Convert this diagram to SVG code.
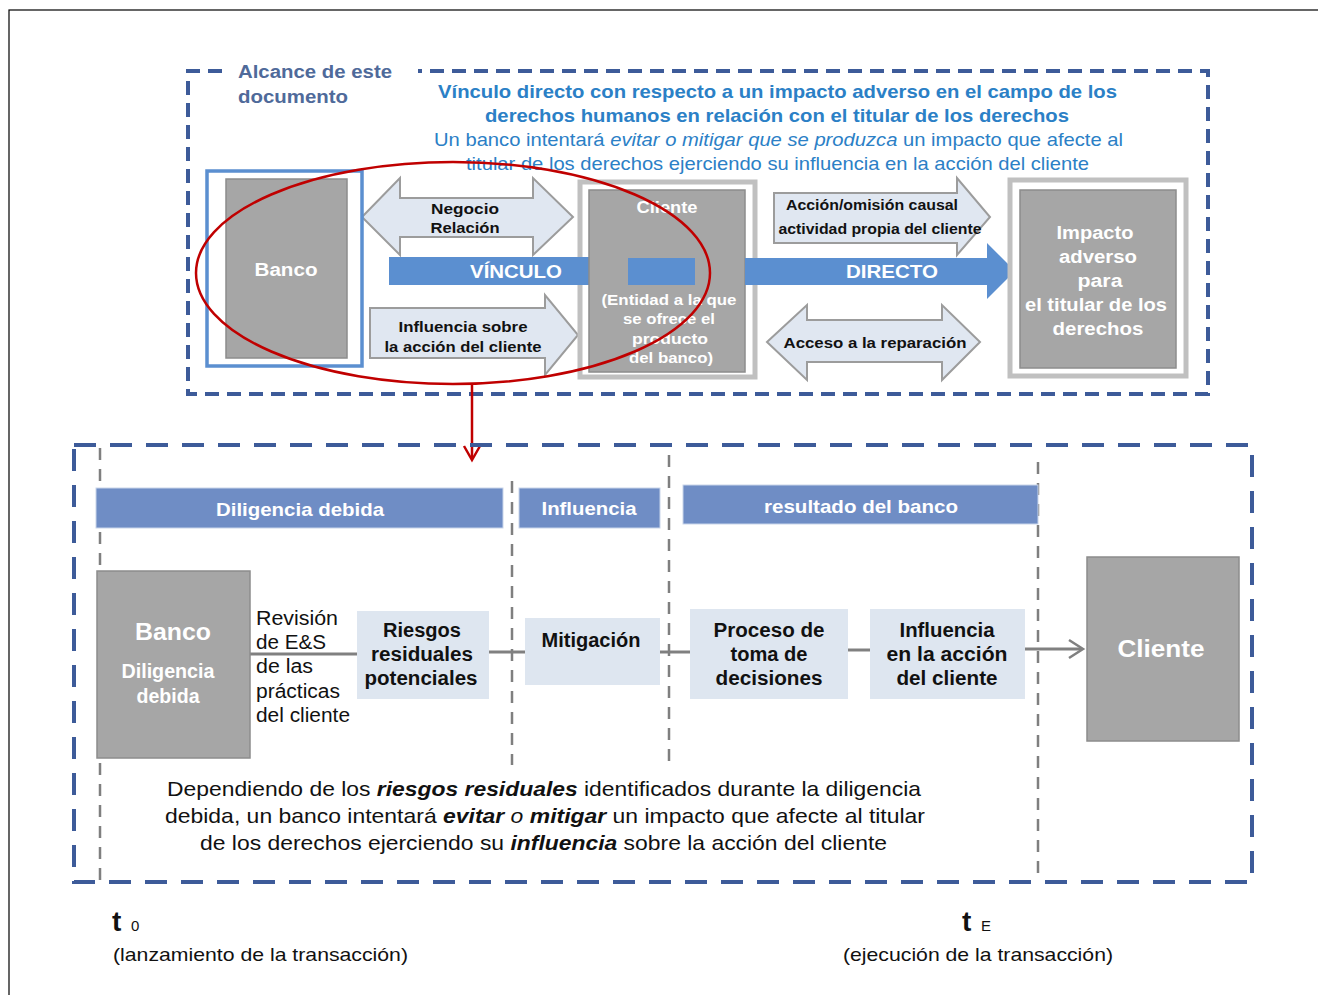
<svg xmlns="http://www.w3.org/2000/svg" width="1318" height="995" viewBox="0 0 1318 995">
<style>
text{font-family:"Liberation Sans Narrow","Liberation Sans",Arial,sans-serif}
.w{font-family:"Liberation Sans",Arial,sans-serif}
.navy{fill:none;stroke:#3d5b99;stroke-width:4}
.gdash{fill:none;stroke:#7f7f7f;stroke-width:2.5;stroke-dasharray:12 9}
.gbox{fill:#a6a6a6;stroke:#8c8c8c;stroke-width:1.5}
.lbox{fill:#dee6f0}
.barr{fill:#e0e7f1;stroke:#9c9c9c;stroke-width:2}
.hbar{fill:#6f8dc5;stroke:#c9d5ea;stroke-width:1}
.con{fill:none;stroke:#808080;stroke-width:3}
.wt{fill:#ffffff;font-weight:bold;text-anchor:middle}
.bt{fill:#111;font-weight:bold;text-anchor:middle}
.blue{fill:#2b80c6}
</style>
<rect x="9" y="10" width="1330" height="1000" fill="#fff" stroke="#000" stroke-width="1.2"/>

<!-- top scope box -->
<g id="scope">
<path class="navy" d="M222,71 H188 V394 H1208 V71 H418" stroke-dasharray="14 8"/>
<text class="w" x="238" y="78" font-size="18" font-weight="bold" fill="#4f6a9a" textLength="154" lengthAdjust="spacingAndGlyphs">Alcance de este</text>
<text class="w" x="238" y="103" font-size="18" font-weight="bold" fill="#4f6a9a" textLength="110" lengthAdjust="spacingAndGlyphs">documento</text>
<text class="w blue" x="438" y="98" font-size="18.5" font-weight="bold" textLength="679" lengthAdjust="spacingAndGlyphs">Vínculo directo con respecto a un impacto adverso en el campo de los</text>
<text class="w blue" x="485" y="122" font-size="18.5" font-weight="bold" textLength="584" lengthAdjust="spacingAndGlyphs">derechos humanos en relación con el titular de los derechos</text>
<text class="w blue" x="434" y="146" font-size="18.5" textLength="689" lengthAdjust="spacingAndGlyphs">Un banco intentará <tspan font-style="italic">evitar o mitigar que se produzca</tspan> un impacto que afecte al</text>
<text class="w blue" x="466" y="170" font-size="18.5" textLength="623" lengthAdjust="spacingAndGlyphs">titular de los derechos ejerciendo su influencia en la acción del cliente</text>
</g>

<!-- top connectors / block arrows -->
<g id="top-arrows">
<polygon class="barr" points="362,217 400,178 400,198 533,198 533,178 573,217 533,255 533,237 400,237 400,255"/>
<text class="w bt" x="465" y="214" font-size="15" textLength="68" lengthAdjust="spacingAndGlyphs">Negocio</text>
<text class="w bt" x="465" y="233" font-size="15" textLength="69" lengthAdjust="spacingAndGlyphs">Relación</text>
<polygon class="barr" points="370,308 545,308 545,295 578,335 545,375 545,358 370,358"/>
<text class="w bt" x="463" y="332" font-size="15" textLength="129" lengthAdjust="spacingAndGlyphs">Influencia sobre</text>
<text class="w bt" x="463" y="352" font-size="15" textLength="157" lengthAdjust="spacingAndGlyphs">la acción del cliente</text>
<polygon class="barr" points="774,193 957,193 957,178 990,217 957,255 957,243 774,243"/>
<text class="w bt" x="872" y="210" font-size="14" textLength="172" lengthAdjust="spacingAndGlyphs">Acción/omisión causal</text>
<text class="w bt" x="880" y="234" font-size="14" textLength="203" lengthAdjust="spacingAndGlyphs">actividad propia del cliente</text>
<polygon class="barr" points="767,342 807,305 807,320 942,320 942,305 980,342 942,380 942,362 807,362 807,380"/>
<text class="w bt" x="875" y="348" font-size="15" textLength="183" lengthAdjust="spacingAndGlyphs">Acceso a la reparación</text>
</g>

<g id="banco-top">
<rect x="207" y="171" width="155" height="195" fill="#fff" stroke="#5b8fd0" stroke-width="3.5"/>
<rect x="226" y="179" width="121" height="179" class="gbox"/>
<text class="w wt" x="286" y="276" font-size="18" textLength="63" lengthAdjust="spacingAndGlyphs">Banco</text>
</g>

<g id="cliente-top">
<rect x="580" y="182" width="175" height="195" fill="#fff" stroke="#c0c0c0" stroke-width="5"/>
<rect x="389" y="257" width="201" height="28" fill="#5b8fd0"/>
<rect x="589" y="190" width="156" height="182" class="gbox"/>
<rect x="628" y="258" width="67" height="27" fill="#5b8fd0"/>
<text class="w wt" x="667" y="213" font-size="16" textLength="61" lengthAdjust="spacingAndGlyphs">Cliente</text>
<text class="w wt" x="669" y="305" font-size="15" textLength="135" lengthAdjust="spacingAndGlyphs">(Entidad a la que</text>
<text class="w wt" x="669" y="324" font-size="15" textLength="92" lengthAdjust="spacingAndGlyphs">se ofrece el</text>
<text class="w wt" x="670" y="344" font-size="15" textLength="76" lengthAdjust="spacingAndGlyphs">producto</text>
<text class="w wt" x="671" y="363" font-size="15" textLength="84" lengthAdjust="spacingAndGlyphs">del banco)</text>
<text class="w wt" x="516" y="278" font-size="18" font-weight="normal" textLength="92" lengthAdjust="spacingAndGlyphs">VÍNCULO</text>
</g>

<g id="directo">
<polygon points="745,258 987,258 987,243 1015,271 987,299 987,285 745,285" fill="#5b8fd0"/>
<text class="w wt" x="892" y="278" font-size="18" font-weight="normal" textLength="92" lengthAdjust="spacingAndGlyphs">DIRECTO</text>
</g>

<g id="impacto">
<rect x="1010" y="180" width="176" height="196" fill="#fff" stroke="#c0c0c0" stroke-width="5"/>
<rect x="1020" y="190" width="156" height="178" class="gbox"/>
<text class="w wt" x="1095" y="239" font-size="18" textLength="77" lengthAdjust="spacingAndGlyphs">Impacto</text>
<text class="w wt" x="1098" y="263" font-size="18" textLength="78" lengthAdjust="spacingAndGlyphs">adverso</text>
<text class="w wt" x="1100" y="287" font-size="18" textLength="45" lengthAdjust="spacingAndGlyphs">para</text>
<text class="w wt" x="1096" y="311" font-size="18" textLength="142" lengthAdjust="spacingAndGlyphs">el titular de los</text>
<text class="w wt" x="1098" y="335" font-size="18" textLength="91" lengthAdjust="spacingAndGlyphs">derechos</text>
</g>

<g id="red-ellipse">
<ellipse cx="453" cy="273" rx="257" ry="111" fill="none" stroke="#c00000" stroke-width="2.5"/>
<line x1="472" y1="384" x2="472" y2="459" stroke="#c00000" stroke-width="2.5"/>
<polyline points="464,446 472,460 480,446" fill="none" stroke="#c00000" stroke-width="2.5"/>
</g>

<!-- bottom frame -->
<g id="timeline-frame">
<rect x="74" y="445" width="1178" height="437" class="navy" stroke-dasharray="22 14"/>
<line class="gdash" x1="100" y1="448" x2="100" y2="880"/>
<line class="gdash" x1="512" y1="481" x2="512" y2="765"/>
<line class="gdash" x1="669" y1="455" x2="669" y2="765"/>
<line class="gdash" x1="1038" y1="462" x2="1038" y2="880"/>
</g>

<g id="headers">
<rect x="96" y="488" width="407" height="40" class="hbar"/>
<text class="wt" x="300" y="516" font-size="19" font-weight="normal" textLength="168" lengthAdjust="spacingAndGlyphs">Diligencia debida</text>
<rect x="519" y="488" width="141" height="40" class="hbar"/>
<text class="wt" x="589" y="515" font-size="19" font-weight="normal" textLength="95" lengthAdjust="spacingAndGlyphs">Influencia</text>
<rect x="683" y="485" width="355" height="39" class="hbar"/>
<text class="wt" x="861" y="513" font-size="19" font-weight="normal" textLength="194" lengthAdjust="spacingAndGlyphs">resultado del banco</text>
</g>

<g id="connectors">
<line class="con" x1="250" y1="654" x2="357" y2="654"/>
<line class="con" x1="489" y1="652" x2="525" y2="652"/>
<line class="con" x1="660" y1="652" x2="690" y2="652"/>
<line class="con" x1="848" y1="650" x2="870" y2="650"/>
<line class="con" x1="1025" y1="649" x2="1082" y2="649"/>
<polyline points="1069,640 1083,649 1069,658" fill="none" stroke="#808080" stroke-width="2.5"/>
</g>

<g id="banco-dd">
<rect x="97" y="571" width="153" height="187" class="gbox"/>
<text class="wt" x="173" y="640" font-size="24" textLength="76" lengthAdjust="spacingAndGlyphs">Banco</text>
<text class="wt" x="168" y="678" font-size="20" font-weight="normal" textLength="93" lengthAdjust="spacingAndGlyphs">Diligencia</text>
<text class="wt" x="168" y="703" font-size="20" font-weight="normal" textLength="63" lengthAdjust="spacingAndGlyphs">debida</text>
</g>

<g id="revision">
<text x="256" y="625" font-size="20" fill="#111" textLength="82" lengthAdjust="spacingAndGlyphs">Revisión</text>
<text x="256" y="649" font-size="20" fill="#111" textLength="70" lengthAdjust="spacingAndGlyphs">de E&amp;S</text>
<text x="256" y="673" font-size="20" fill="#111" textLength="57" lengthAdjust="spacingAndGlyphs">de las</text>
<text x="256" y="698" font-size="20" fill="#111" textLength="84" lengthAdjust="spacingAndGlyphs">prácticas</text>
<text x="256" y="722" font-size="20" fill="#111" textLength="94" lengthAdjust="spacingAndGlyphs">del cliente</text>
</g>

<g id="riesgos">
<rect x="357" y="611" width="132" height="88" class="lbox"/>
<text class="bt" x="422" y="637" font-size="20" textLength="78" lengthAdjust="spacingAndGlyphs">Riesgos</text>
<text class="bt" x="422" y="661" font-size="20" textLength="102" lengthAdjust="spacingAndGlyphs">residuales</text>
<text class="bt" x="421" y="685" font-size="20" textLength="113" lengthAdjust="spacingAndGlyphs">potenciales</text>
</g>

<g id="mitigacion">
<rect x="525" y="618" width="135" height="67" class="lbox"/>
<text class="bt" x="591" y="647" font-size="20" textLength="99" lengthAdjust="spacingAndGlyphs">Mitigación</text>
</g>

<g id="proceso">
<rect x="690" y="609" width="158" height="90" class="lbox"/>
<text class="bt" x="769" y="637" font-size="20" textLength="111" lengthAdjust="spacingAndGlyphs">Proceso de</text>
<text class="bt" x="769" y="661" font-size="20" textLength="77" lengthAdjust="spacingAndGlyphs">toma de</text>
<text class="bt" x="769" y="685" font-size="20" textLength="107" lengthAdjust="spacingAndGlyphs">decisiones</text>
</g>

<g id="influencia">
<rect x="870" y="609" width="155" height="90" class="lbox"/>
<text class="bt" x="947" y="637" font-size="20" textLength="95" lengthAdjust="spacingAndGlyphs">Influencia</text>
<text class="bt" x="947" y="661" font-size="20" textLength="121" lengthAdjust="spacingAndGlyphs">en la acción</text>
<text class="bt" x="947" y="685" font-size="20" textLength="101" lengthAdjust="spacingAndGlyphs">del cliente</text>
</g>

<g id="cliente-bottom">
<rect x="1087" y="557" width="152" height="184" class="gbox"/>
<text class="wt" x="1161" y="657" font-size="24" textLength="87" lengthAdjust="spacingAndGlyphs">Cliente</text>
</g>

<g id="paragraph" fill="#111" font-size="21">
<text x="167" y="796" textLength="754" lengthAdjust="spacingAndGlyphs">Dependiendo  de los <tspan font-weight="bold" font-style="italic">riesgos  residuales</tspan>  identificados  durante  la diligencia</text>
<text x="165" y="823" textLength="760" lengthAdjust="spacingAndGlyphs">debida, un banco intentará <tspan font-weight="bold" font-style="italic">evitar</tspan> <tspan font-style="italic">o</tspan> <tspan font-weight="bold" font-style="italic">mitigar</tspan> un impacto que afecte al titular</text>
<text x="200" y="850" textLength="687" lengthAdjust="spacingAndGlyphs">de los derechos ejerciendo su <tspan font-weight="bold" font-style="italic">influencia</tspan> sobre la acción del cliente</text>
</g>

<g id="time-labels" fill="#111">
<text x="112" y="931" font-size="28" font-weight="bold">t</text>
<text x="131" y="931" font-size="15">0</text>
<text x="113" y="961" font-size="19" textLength="295" lengthAdjust="spacingAndGlyphs">(lanzamiento de la transacción)</text>
<text x="962" y="931" font-size="28" font-weight="bold">t</text>
<text x="981" y="931" font-size="15">E</text>
<text x="843" y="961" font-size="19" textLength="270" lengthAdjust="spacingAndGlyphs">(ejecución de la transacción)</text>
</g>
</svg>
